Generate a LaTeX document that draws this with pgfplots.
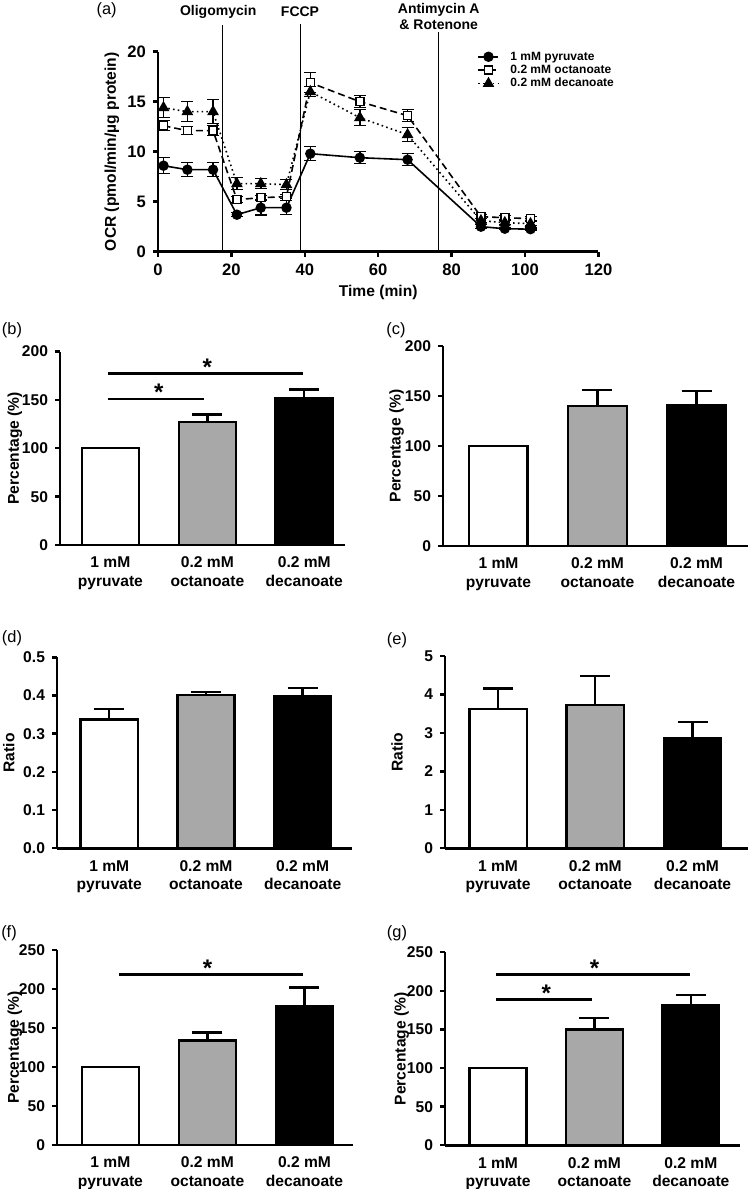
\documentclass[border=0pt]{standalone}
\usepackage{fontspec}
\setmainfont{Liberation Sans}
\usepackage{pgfplots}
\pgfplotsset{compat=1.18}
\definecolor{bargray}{RGB}{168,168,168}
\newcommand{\tfont}{\fontsize{7.8}{9.2}\selectfont\bfseries}
\newcommand{\afont}{\fontsize{8.3}{9.5}\selectfont\bfseries}
\newcommand{\pfont}{\fontsize{8.2}{9.5}\selectfont}
\newcommand{\sfont}{\fontsize{12}{12}\selectfont\bfseries}
\pgfplotsset{
 gp/.style={scale only axis, axis lines=left, axis line style={line width=1.4pt,-},
   tick style={black, line width=1.2pt}, tick align=outside, major tick length=2.5pt,
   /pgf/number format/assume math mode=true,
   tick label style={font=\tfont}, label style={font=\tfont}, clip=false},
 barpanel/.style={gp, ymin=0, xtick={0,1,2},
   xticklabels={{1 mM\\pyruvate},{0.2 mM\\octanoate},{0.2 mM\\decanoate}},
   xticklabel style={align=center, font=\tfont},
   x tick style={draw=none}},
 gpbar/.style={ybar, bar shift=0pt, bar width=0.59, draw=black, line width=1.2pt},
 gperr/.style={error bars/.cd, y dir=plus, y explicit,
   error bar style={line width=1.2pt, black},
   error mark options={rotate=90, line width=1.2pt, mark size=7.5pt, black}},
 lerr/.style={error bars/.cd, y dir=both, y explicit, error bar style={line width=0.8pt, solid},
   error mark options={rotate=90, line width=0.8pt, mark size=3pt, solid}},
}
\begin{document}
\begin{tikzpicture}
\useasboundingbox (0,0) rectangle (375pt,594.5pt);
% panel labels
\node[font=\pfont] at (53.3pt,589.5pt) {(a)};
\node[font=\pfont] at (6pt,429.5pt) {(b)};
\node[font=\pfont] at (198pt,429.5pt) {(c)};
\node[font=\pfont] at (6pt,275.5pt) {(d)};
\node[font=\pfont] at (198.5pt,274.5pt) {(e)};
\node[font=\pfont] at (4.5pt,128pt) {(f)};
\node[font=\pfont] at (198.5pt,128pt) {(g)};

% ---------------- (a)
\begin{axis}[gp, at={(79pt,468.65pt)}, anchor=south west, width=220.2pt, height=100pt,
  xmin=0, xmax=120, ymin=0, ymax=20, xtick={0,20,...,120}, ytick={0,5,...,20},
  tick label style={font=\afont},
  xlabel={Time (min)}, ylabel={OCR (pmol/min/µg protein)},
  xlabel style={at={(axis description cs:0.5,0)}, anchor=center, yshift=-20.6pt},
  ylabel style={at={(axis description cs:-0.105,0.5)}, anchor=center},
  legend style={at={(axis cs:87,20.2)}, anchor=north west, draw=none, fill=none, inner sep=0pt,
    font=\fontsize{6}{6.2}\selectfont\bfseries,
    nodes={inner sep=0.6pt, text height=4.4pt, text depth=1.1pt}, row sep=0pt,
    /tikz/every odd column/.append style={column sep=5pt}},
  legend cell align=left,
  legend image code/.code={\draw[mark repeat=2,mark phase=2,#1] plot coordinates {(0pt,0pt) (5pt,0pt) (10pt,0pt)};},
]
\addplot[black, line width=0.8pt, mark=*, mark size=2.2pt, lerr]
 coordinates {(1.5,8.6) +- (0,0.8) (8,8.2) +- (0,0.7) (15,8.2) +- (0,0.7)
  (21.5,3.7) +- (0,0.2) (28,4.4) +- (0,0.75) (35,4.4) +- (0,0.7)
  (41.5,9.8) +- (0,0.7) (55,9.4) +- (0,0.6) (68,9.2) +- (0,0.6)
  (88,2.5) +- (0,0.2) (94.5,2.3) +- (0,0.1) (101.5,2.25) +- (0,0.1)};
\addlegendentry{1 mM pyruvate}
\addplot[black, line width=0.8pt, dash pattern=on 3.5pt off 2pt, mark=square*, mark size=2pt,
  mark options={solid, fill=white, line width=0.8pt}, lerr]
 coordinates {(1.5,12.6) +- (0,0.5) (8,12.1) +- (0,0.4) (15,12.1) +- (0,0.5)
  (21.5,5.2) +- (0,0.3) (28,5.4) +- (0,0.2) (35,5.5) +- (0,0.2)
  (41.5,16.9) +- (0,1.0) (55,15.0) +- (0,0.6) (68,13.6) +- (0,0.6)
  (88,3.5) +- (0,0.2) (94.5,3.4) +- (0,0.2) (101.5,3.3) +- (0,0.2)};
\addlegendentry{0.2 mM octanoate}
\addplot[black, line width=0.8pt, dash pattern=on 0.8pt off 1.6pt, mark=triangle*, mark size=2.6pt,
  mark options={solid}, lerr]
 coordinates {(1.5,14.4) +- (0,1.0) (8,14.0) +- (0,1.0) (15,14.0) +- (0,1.2)
  (21.5,6.8) +- (0,0.6) (28,6.8) +- (0,0.5) (35,6.7) +- (0,0.5)
  (41.5,16.0) +- (0,0.5) (55,13.4) +- (0,0.8) (68,11.7) +- (0,0.7)
  (88,3.1) +- (0,0.2) (94.5,2.9) +- (0,0.2) (101.5,2.8) +- (0,0.2)};
\addlegendentry{0.2 mM decanoate}
\draw[line width=0.5pt] (axis cs:17.7,0) -- (axis cs:17.7,22.7);
\draw[line width=0.5pt] (axis cs:38.7,0) -- (axis cs:38.7,22.8);
\draw[line width=0.5pt] (axis cs:76.5,0) -- (axis cs:76.5,22.0);
\node[font=\fontsize{7}{8}\selectfont\bfseries] at (axis cs:16.4,23.97) {Oligomycin};
\node[font=\fontsize{7}{8}\selectfont\bfseries] at (axis cs:38.7,23.97) {FCCP};
\node[font=\fontsize{7}{8}\selectfont\bfseries, align=center] at (axis cs:76.5,23.5) {Antimycin A\\\& Rotenone};
\end{axis}

% ---------------- (b)
\begin{axis}[barpanel, at={(30pt,322pt)}, anchor=south west, width=142.5pt, height=96.7pt,
  xmin=-0.52, xmax=2.42, ymax=200, ytick={0,50,...,200},
  ylabel={Percentage (\%)}, ylabel style={at={(axis description cs:-0.158,0.5)}, anchor=center}]
\addplot[gpbar, fill=white] coordinates {(0,100)};
\addplot[gpbar, fill=bargray, gperr] coordinates {(1,127) +- (0,8)};
\addplot[gpbar, fill=black, gperr] coordinates {(2,152) +- (0,9)};
\draw[line width=1.4pt] (axis cs:-0.03,151) -- (axis cs:0.97,151);
\draw[line width=1.4pt] (axis cs:-0.03,177) -- (axis cs:1.99,177);
\node[font=\sfont] at (axis cs:0.5,158) {*};
\node[font=\sfont] at (axis cs:1.0,184) {*};
\end{axis}

% ---------------- (c)
\begin{axis}[barpanel, at={(221.5pt,321.5pt)}, anchor=south west, width=152.5pt, height=100pt,
  xmin=-0.56, xmax=2.52, ymax=200, ytick={0,50,...,200},
  ylabel={Percentage (\%)}, ylabel style={at={(axis description cs:-0.152,0.5)}, anchor=center}]
\addplot[gpbar, fill=white] coordinates {(0,100)};
\addplot[gpbar, fill=bargray, gperr] coordinates {(1,140) +- (0,16)};
\addplot[gpbar, fill=black, gperr] coordinates {(2,141) +- (0,14)};
\end{axis}

% ---------------- (d)
\begin{axis}[barpanel, at={(28.5pt,170.35pt)}, anchor=south west, width=147.5pt, height=95.5pt,
  xmin=-0.54, xmax=2.51, ymax=0.5, ytick={0,0.1,...,0.5},
  yticklabel style={/pgf/number format/.cd, fixed, fixed zerofill, precision=1},
  ylabel={Ratio}, ylabel style={at={(axis description cs:-0.163,0.5)}, anchor=center}]
\addplot[gpbar, fill=white, gperr] coordinates {(0,0.337) +- (0,0.027)};
\addplot[gpbar, fill=bargray, gperr] coordinates {(1,0.401) +- (0,0.008)};
\addplot[gpbar, fill=black, gperr] coordinates {(2,0.399) +- (0,0.02)};
\end{axis}

% ---------------- (e)
\begin{axis}[barpanel, at={(222.5pt,170.35pt)}, anchor=south west, width=151.5pt, height=96.2pt,
  xmin=-0.545, xmax=2.57, ymax=5, ytick={0,1,...,5},
  ylabel={Ratio}, ylabel style={at={(axis description cs:-0.158,0.5)}, anchor=center}]
\addplot[gpbar, fill=white, gperr] coordinates {(0,3.62) +- (0,0.53)};
\addplot[gpbar, fill=bargray, gperr] coordinates {(1,3.72) +- (0,0.76)};
\addplot[gpbar, fill=black, gperr] coordinates {(2,2.86) +- (0,0.42)};
\end{axis}

% ---------------- (f)
\begin{axis}[barpanel, at={(28.5pt,22pt)}, anchor=south west, width=148pt, height=97.5pt,
  xmin=-0.55, xmax=2.5, ymax=250, ytick={0,50,...,250},
  ylabel={Percentage (\%)}, ylabel style={at={(axis description cs:-0.142,0.5)}, anchor=center}]
\addplot[gpbar, fill=white] coordinates {(0,100)};
\addplot[gpbar, fill=bargray, gperr] coordinates {(1,134) +- (0,10)};
\addplot[gpbar, fill=black, gperr] coordinates {(2,178) +- (0,24)};
\draw[line width=1.4pt] (axis cs:0.09,219) -- (axis cs:1.98,219);
\node[font=\sfont] at (axis cs:1.0,227) {*};
\end{axis}

% ---------------- (g)
\begin{axis}[barpanel, at={(222.5pt,21.85pt)}, anchor=south west, width=147.5pt, height=96.5pt,
  xmin=-0.55, xmax=2.51, ymax=250, ytick={0,50,...,250},
  ylabel={Percentage (\%)}, ylabel style={at={(axis description cs:-0.147,0.5)}, anchor=center}]
\addplot[gpbar, fill=white] coordinates {(0,100)};
\addplot[gpbar, fill=bargray, gperr] coordinates {(1,150) +- (0,15)};
\addplot[gpbar, fill=black, gperr] coordinates {(2,182) +- (0,13)};
\draw[line width=1.4pt] (axis cs:-0.02,189) -- (axis cs:0.975,189);
\draw[line width=1.4pt] (axis cs:-0.02,221.5) -- (axis cs:1.995,221.5);
\node[font=\sfont] at (axis cs:0.5,197) {*};
\node[font=\sfont] at (axis cs:1.0,229) {*};
\end{axis}
\end{tikzpicture}
\end{document}
